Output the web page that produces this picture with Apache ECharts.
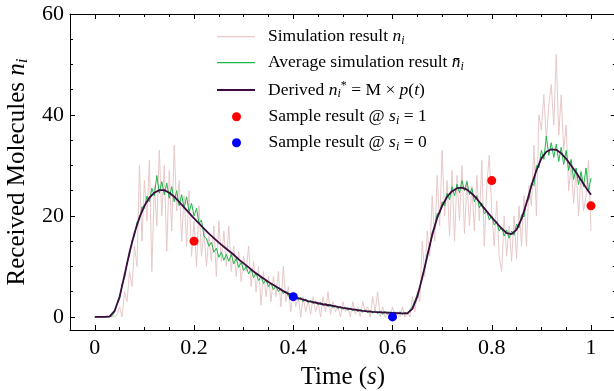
<!DOCTYPE html>
<html><head><meta charset="utf-8">
<script src="https://cdn.jsdelivr.net/npm/echarts@6/dist/echarts.min.js"></script>
<style>html,body{margin:0;padding:0;background:#fff}#c{width:614px;height:391px}</style>
</head><body><div id="c"></div>
<script>
// ---------------- data ----------------
const timeStep = 0.005;          // sampling step of the simulation traces (s)
const simValues = [
 0,0,0,0,0,0,0,0,0,0.5,
 2,0,5,3,9,6,14,10,30,15,
 27,19,31,9,26,18,33,20,30,13,
 29,17,34,21,27,15,24,14,25,12,
 19,10,22,12,17,10,16,11,18,8,
 19,11,17,10,18,9,14,8,13,7,
 12,9,14,6,11,5,10,2.3,9,4,
 8,3,8,4,9,2,10,3,6,1,
 5,2,4,0,4,1,3,0.5,4,1,
 3,0,4,1,5,0.5,3,1,2,0,
 3,1,2,0,3,0.5,2,0,3,1,
 2,0,4,1,5,0,2,0,1,0,
 2,0,1,0,2,0,1,0,4,1,
 5,3,15,8,17,12,24,15,28,18,
 33,20,27,16,29,15,28,19,30,16.5,
 27,18,26,17,28,19,31,14,26,32,
 21,14,23,12,9,20,12,18,11,20,
 11.5,22,14,24,14,26,22,34,20,40,
 37,44,35,42,46,38,52,36,44,33,
 38,25,30,22.5,29,20,28,21,24,31,
 17
];
const avgValues = [
 0,0,0,0,0,0,0,0.2,1.0,2.5,
 3.5,6.5,7.8,10.8,12.2,15.2,16.0,18.8,19.2,21.8,
 21.5,23.9,22.8,25.5,24.0,28.0,24.5,26.8,24.2,26.5,
 23.5,25.8,22.8,25.0,22.0,24.2,21.5,23.8,20.8,22.5,
 20.0,21.5,18.5,19.2,16.0,15.5,14.0,14.8,12.8,13.6,
 11.8,12.8,11.2,12.4,11.0,12.4,10.5,11.6,9.8,10.8,
 9.2,10.0,8.5,9.5,7.8,8.6,7.2,8.0,6.6,7.3,
 6.0,6.7,5.4,6.1,5.0,5.6,4.6,5.1,4.1,4.7,
 3.8,4.3,3.3,3.9,3.0,3.6,2.8,3.3,2.6,3.1,
 2.4,2.9,2.2,2.7,2.0,2.5,1.8,2.3,1.6,2.1,
 1.5,1.9,1.3,1.8,1.2,1.6,1.0,1.5,0.9,1.4,
 0.8,1.3,0.7,1.2,0.6,1.1,0.5,1.1,0.5,1.0,
 0.4,1.0,0.5,1.0,0.5,0.9,0.6,1.4,2.0,3.2,
 4.5,5.8,8.2,9.6,12.5,14.0,16.8,18.0,20.5,20.4,
 22.8,22.0,24.5,23.2,25.8,24.0,26.3,24.6,27.0,25.0,
 26.8,24.2,25.5,22.8,24.0,21.6,22.6,20.4,21.0,19.2,
 20.0,18.2,19.0,17.0,17.8,16.0,17.2,15.6,17.0,16.2,
 18.4,17.6,20.2,19.8,23.0,23.2,26.5,26.0,30.0,29.5,
 33.0,31.2,35.8,32.0,34.5,31.6,34.2,30.8,33.6,30.2,
 33.0,29.0,31.2,27.2,29.5,26.2,28.8,25.8,29.5,25.0,
 27.5
];
const derivedStep = 0.01;
const derivedValues = [
 0,0,0,0.1,1.2,4.0,8.3,12.8,16.6,19.7,
 22.0,23.6,24.6,25.1,25.1,24.6,23.8,22.8,21.7,20.6,
 19.5,18.5,17.5,16.5,15.6,14.7,13.9,13.1,12.3,11.4,
 10.6,9.8,9.0,8.3,7.6,6.9,6.3,5.7,5.1,4.6,
 4.1,3.7,3.4,3.1,2.9,2.7,2.5,2.35,2.2,2.0,
 1.8,1.65,1.5,1.35,1.2,1.1,1.0,0.95,0.9,0.85,
 0.8,0.75,0.7,0.7,1.6,4.0,7.8,12.0,16.2,19.6,
 22.0,23.8,24.9,25.5,25.6,25.2,24.4,23.4,22.1,20.9,
 19.7,18.6,17.5,16.6,16.4,17.3,19.4,22.5,26.0,29.0,
 31.4,32.7,33.2,33.1,32.4,31.3,30.0,28.6,27.1,25.6,
 24.2
];
const sample1Times = [0.2, 0.8, 1.0];
const sample1Values = [15, 27, 22];
const sample0Times = [0.4, 0.6];
const sample0Values = [4, 0];

const xMajorTicks = [0, 0.2, 0.4, 0.6, 0.8, 1];
const xMinorTicks = [0.05,0.1,0.15,0.25,0.3,0.35,0.45,0.5,0.55,0.65,0.7,0.75,0.85,0.9,0.95];
const yMajorTicks = [0, 20, 40, 60];
const yMinorTicks = [5,10,15,25,30,35,45,50,55];

const seriesNames = ['sim','avg','der','s1','s0'];

// ---------------- chart ----------------
const FONT = '"Liberation Serif","Times New Roman",serif';
const pairs = (step, vals) => vals.map((v, i) => [+(i * step).toFixed(4), v]);
const zip = (xs, ys) => xs.map((x, i) => [x, ys[i]]);

const X_MIN = -0.05, X_MAX = 1.05, Y_MIN = -2.6, Y_MAX = 60;

const rich = {
  n:   {fontFamily: FONT, fontStyle: 'italic', fontSize: 17.5, lineHeight: 20, color: '#000'},
  sub: {fontFamily: FONT, fontStyle: 'italic', fontSize: 12, lineHeight: 12, verticalAlign: 'bottom', color: '#000'},
  sup: {fontFamily: FONT, fontSize: 12, lineHeight: 12, verticalAlign: 'top', color: '#000'}
};
const richBig = {
  n:   {fontFamily: FONT, fontStyle: 'italic', fontSize: 25, lineHeight: 28, color: '#000'},
  sub: {fontFamily: FONT, fontStyle: 'italic', fontSize: 17, lineHeight: 17, verticalAlign: 'bottom', color: '#000'}
};

const legendText = {
  sim: 'Simulation result {n|n}{sub|i}',
  avg: 'Average simulation result {n|n\u0304}{sub|i}',
  der: 'Derived {n|n}{sub|i}{sup|*} = M \u00d7 {n|p}({n|t})',
  s1:  'Sample result @ {n|s}{sub|i} = 1',
  s0:  'Sample result @ {n|s}{sub|i} = 0'
};
const legendRows = [36.7, 62.7, 90, 116.7, 142.7];
const legendIconH = {sim: 1.2, avg: 1.2, der: 2, s1: 9, s0: 9};

function xAx(pos, ticks, len, showLine, label) {
  return {
    type: 'value', position: pos, min: X_MIN, max: X_MAX,
    axisLine: {show: showLine, onZero: false, lineStyle: {color: '#000', width: 1}},
    axisTick: {show: true, inside: true, length: len, customValues: ticks, lineStyle: {color: '#000', width: 1}},
    axisLabel: label ? {show: true, customValues: ticks, fontFamily: FONT, fontSize: 22, color: '#000', margin: 7,
                        formatter: v => String(+v.toFixed(2))} : {show: false},
    splitLine: {show: false}
  };
}
function yAx(pos, ticks, len, showLine, label) {
  return {
    type: 'value', position: pos, min: Y_MIN, max: Y_MAX,
    axisLine: {show: showLine, onZero: false, lineStyle: {color: '#000', width: 1}},
    axisTick: {show: true, inside: true, length: len, customValues: ticks, lineStyle: {color: '#000', width: 1}},
    axisLabel: label ? {show: true, customValues: ticks, fontFamily: FONT, fontSize: 22, color: '#000', margin: 6} : {show: false},
    splitLine: {show: false}
  };
}

const xAxes = [
  Object.assign(xAx('bottom', xMajorTicks, 5, true, true), {
    name: 'Time ({n|s})', nameLocation: 'middle', nameGap: 29,
    nameTextStyle: {fontFamily: FONT, fontSize: 25, color: '#000', lineHeight: 28, rich: richBig}
  }),
  xAx('bottom', xMinorTicks, 3, false, false),
  xAx('top', xMajorTicks, 5, true, false),
  xAx('top', xMinorTicks, 3, false, false)
];
const yAxes = [
  Object.assign(yAx('left', yMajorTicks, 5, true, true), {
    name: 'Received Molecules {n|n}{sub|i}', nameLocation: 'middle', nameGap: 39,
    nameTextStyle: {fontFamily: FONT, fontSize: 25, color: '#000', lineHeight: 28, rich: richBig}
  }),
  yAx('left', yMinorTicks, 3, false, false),
  yAx('right', yMajorTicks, 5, true, false),
  yAx('right', yMinorTicks, 3, false, false)
];

const colors = {sim: '#e8c9c9', avg: '#1fb64a', der: '#3d0b42', s1: '#ff0000', s0: '#0000ff'};

const option = {
  animation: false,
  backgroundColor: '#fff',
  grid: {left: 70, top: 14, width: 545.8, height: 316, containLabel: false, outerBoundsMode: 'none'},
  xAxis: xAxes,
  yAxis: yAxes,
  legend: seriesNames.map((nm, i) => ({
    data: [{name: nm, icon: i >= 3 ? 'circle' : 'rect'}],
    left: i >= 3 ? 232 : 217, top: legendRows[i] - 10, padding: 0, orient: 'vertical',
    itemWidth: 38, itemHeight: legendIconH[nm], selectedMode: false,
    formatter: n => legendText[n],
    itemStyle: {opacity: 1},
    textStyle: {fontFamily: FONT, fontSize: 17.5, color: '#000', lineHeight: 20, padding: [0, 0, 0, 8], rich: rich}
  })),
  series: [
    {name: 'sim', type: 'line', data: pairs(timeStep, simValues), symbol: 'none', z: 1,
     color: colors.sim, lineStyle: {color: colors.sim, width: 1}, silent: true},
    {name: 'avg', type: 'line', data: pairs(timeStep, avgValues), symbol: 'none', z: 2,
     color: colors.avg, lineStyle: {color: colors.avg, width: 1}, silent: true},
    {name: 'der', type: 'line', data: pairs(derivedStep, derivedValues), symbol: 'none', z: 3,
     color: colors.der, lineStyle: {color: colors.der, width: 1.8}, silent: true},
    {name: 's1', type: 'scatter', data: zip(sample1Times, sample1Values), symbol: 'circle', symbolSize: 9, z: 4,
     color: colors.s1, itemStyle: {color: colors.s1, opacity: 1}},
    {name: 's0', type: 'scatter', data: zip(sample0Times, sample0Values), symbol: 'circle', symbolSize: 9, z: 4,
     color: colors.s0, itemStyle: {color: colors.s0, opacity: 1}}
  ]
};
const chart = echarts.init(document.getElementById('c'), null, {renderer: 'canvas'});
chart.setOption(option);
</script>
</body></html>
